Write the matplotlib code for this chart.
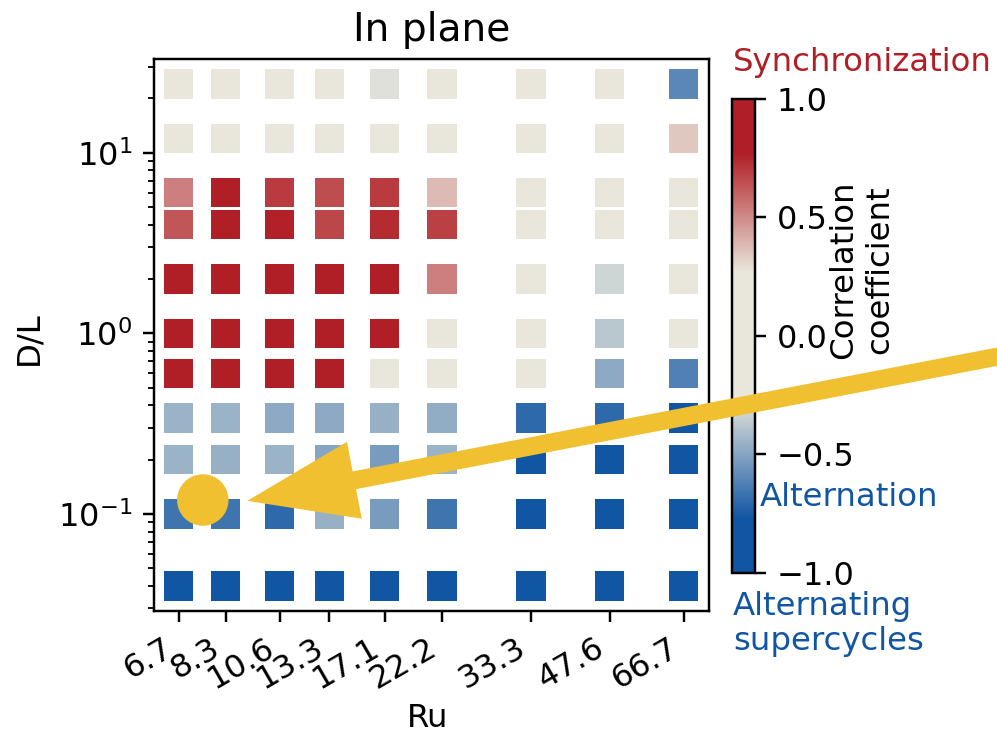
import numpy as np
import matplotlib
matplotlib.use("Agg")
import matplotlib.pyplot as plt
from matplotlib.colors import LinearSegmentedColormap
from matplotlib.patches import FancyArrow, Circle
from matplotlib.transforms import IdentityTransform
from matplotlib.ticker import NullLocator

# DATA
ru = [6.7, 8.3, 10.6, 13.3, 17.1, 22.2, 33.3, 47.6, 66.7]
ru_labels = ["6.7", "8.3", "10.6", "13.3", "17.1", "22.2", "33.3", "47.6", "66.7"]
dl = [24, 12, 6, 4, 2, 1, 0.6, 0.34, 0.2, 0.1, 0.04]

# correlation coefficient, one row per D/L (top to bottom), one column per Ru
corr = [
    [0.02, 0.01, 0.03, -0.22, -0.29, 0.01, 0.02, 0.00, -0.60],
    [0.01, 0.02, 0.01, 0.00, 0.02, 0.01, 0.00, 0.01, 0.35],
    [0.53, 0.80, 0.70, 0.65, 0.70, 0.38, 0.02, 0.01, 0.00],
    [0.63, 0.90, 0.76, 0.67, 0.74, 0.68, 0.01, 0.02, 0.01],
    [1.00, 1.00, 1.00, 1.00, 1.00, 0.53, 0.00, -0.33, 0.01],
    [1.00, 1.00, 1.00, 1.00, 0.98, 0.02, 0.01, -0.38, 0.00],
    [1.00, 1.00, 1.00, 0.99, 0.01, 0.00, 0.02, -0.48, -0.62],
    [-0.45, -0.45, -0.48, -0.48, -0.46, -0.47, -0.70, -0.70, -0.90],
    [-0.45, -0.46, -0.45, -0.50, -0.53, -0.45, -1.00, -1.00, -1.00],
    [-0.66, -0.66, -0.70, -0.46, -0.53, -0.66, -1.00, -1.00, -1.00],
    [-1.00, -1.00, -1.00, -1.00, -1.00, -1.00, -1.00, -1.00, -1.00],
]

red = "#b11f26"
blue = "#1156a3"
beige = "#e9e7dc"
yellow = "#f0c030"

plt.rcParams["font.size"] = 10.6
plt.rcParams["xtick.labelsize"] = 10.5
plt.rcParams["ytick.labelsize"] = 10.5
plt.rcParams["axes.titlesize"] = 12.8

cmap = LinearSegmentedColormap.from_list(
    "sync", [(0.0, blue), (0.115, blue), (0.365, beige),
             (0.635, beige), (0.885, red), (1.0, red)])

X, Y = np.meshgrid(ru, dl)
C = np.array(corr)

fig = plt.figure(figsize=(997 / 220, 739 / 220), dpi=220)
ax = fig.add_axes([0.154, 0.1732, 0.557, 0.747])
sc = ax.scatter(X.ravel(), Y.ravel(), c=C.ravel(), cmap=cmap, vmin=-1, vmax=1,
                marker="s", s=92, edgecolors="none")
ax.set_xscale("log")
ax.set_yscale("log")
ax.set_xticks(ru)
ax.set_xticklabels(ru_labels, rotation=30, ha="right")
ax.xaxis.set_minor_locator(NullLocator())
ax.set_title("In plane")
ax.set_xlabel("Ru")
ax.set_ylabel("D/L")
ax.xaxis.set_label_coords(0.494, -0.167)
ax.yaxis.set_label_coords(-0.197, 0.495)

cax = fig.add_axes([0.734, 0.2246, 0.0234, 0.642])
cb = fig.colorbar(sc, cax=cax, ticks=[-1, -0.5, 0, 0.5, 1])

fig.text(862 / 997, 1 - 270 / 739, "Correlation\ncoefficient", rotation=90,
         ha="center", va="center", multialignment="center")
fig.text(733 / 997, 1 - 62 / 739, "Synchronization", color=red, ha="left", va="center")
fig.text(760 / 997, 1 - 497 / 739, "Alternation", color=blue, ha="left", va="center")
fig.text(733 / 997, 1 - 624 / 739, "Alternating\nsupercycles", color=blue,
         ha="left", va="center")

# highlight (pixel coordinates)
arrow = FancyArrow(1010, 384.8, -758.3, -145.8, width=15, head_width=74,
                   head_length=103, length_includes_head=True, color=yellow,
                   transform=IdentityTransform(), clip_on=False)
fig.add_artist(arrow)
dot = Circle((202.8, 239), 24.2, color=yellow, transform=IdentityTransform(),
             clip_on=False)
fig.add_artist(dot)

fig.savefig("out.png", dpi=220)
